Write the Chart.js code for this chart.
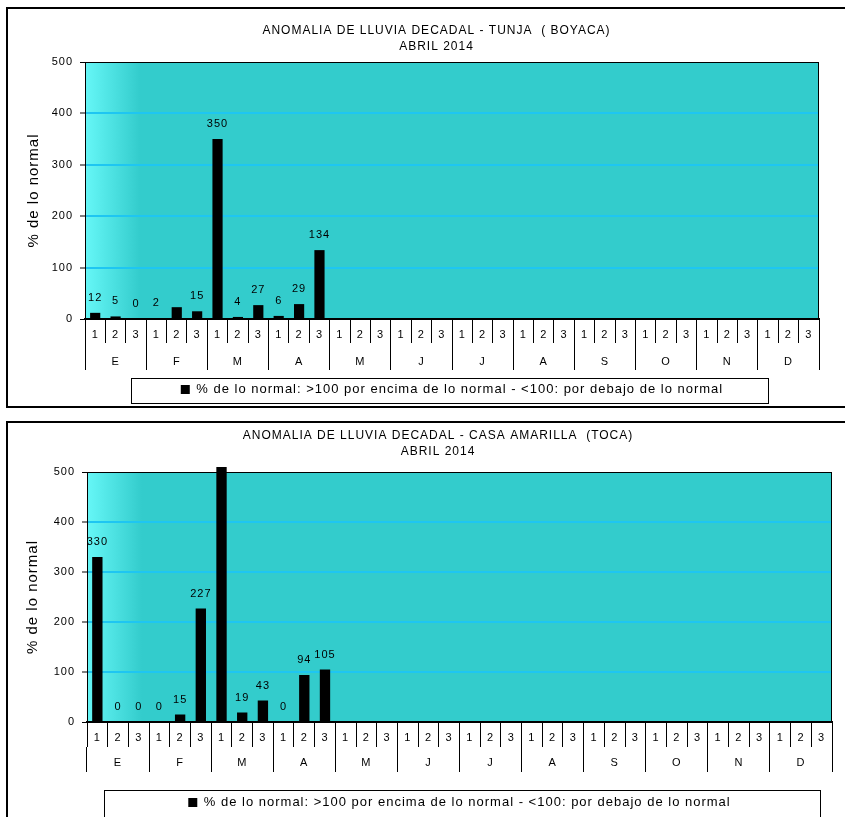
<!DOCTYPE html>
<html lang="es">
<head>
<meta charset="UTF-8">
<title>Anomalia de lluvia decadal - Abril 2014</title>
<script src="https://cdn.jsdelivr.net/npm/chart.js@4"></script>
<style>
  html, body { margin: 0; padding: 0; background: #fff; overflow: hidden; }
  .caja { position: absolute; border: 2px solid #000; background: #fff; }
  .caja > div { position: relative; width: 100%; height: 100%; }
</style>
</head>
<body>
<div class="caja" style="left:6px; top:7px; width:857px; height:397px;">
  <div><canvas id="graficoTunja"></canvas></div>
</div>
<div class="caja" style="left:6px; top:421px; width:860px; height:396px;">
  <div><canvas id="graficoToca"></canvas></div>
</div>

<script>
// datos
const meses = ['E', 'F', 'M', 'A', 'M', 'J', 'J', 'A', 'S', 'O', 'N', 'D'];
const decadas = ['1', '2', '3', '1', '2', '3', '1', '2', '3', '1', '2', '3',
                 '1', '2', '3', '1', '2', '3', '1', '2', '3', '1', '2', '3',
                 '1', '2', '3', '1', '2', '3', '1', '2', '3', '1', '2', '3'];
const leyenda = '% de lo normal: >100 por encima de lo normal - <100: por debajo de lo normal';

const tituloTunja = ['ANOMALIA DE LLUVIA DECADAL - TUNJA  ( BOYACA)', 'ABRIL 2014'];
const valoresTunja = [12, 5, 0, 2, 23, 15, 350, 4, 27, 6, 29, 134];
const etiquetasTunja = ['12', '5', '0', '2', null, '15', '350', '4', '27', '6', '29', '134'];

const tituloToca = ['ANOMALIA DE LLUVIA DECADAL - CASA AMARILLA  (TOCA)', 'ABRIL 2014'];
const valoresToca = [330, 0, 0, 0, 15, 227, 510, 19, 43, 0, 94, 105];
const etiquetasToca = ['330', '0', '0', '0', '15', '227', null, '19', '43', '0', '94', '105'];

Chart.defaults.font.family = '"Liberation Sans", Arial, sans-serif';
Chart.defaults.color = '#000';

// el texto de excel sale algo espaciado; se pone antes de medir y de pintar
const espaciado = {
    id: 'espaciado',
    beforeUpdate(chart) { chart.ctx.letterSpacing = '1px'; },
    beforeDraw(chart) { chart.ctx.letterSpacing = '1px'; }
};

// fondo turquesa con degradado a la izquierda y marco negro del area
const fondoArea = {
    id: 'fondoArea',
    beforeDraw(chart) {
        const { ctx, chartArea: a } = chart;
        const g = ctx.createLinearGradient(a.left, 0, a.left + 55, 0);
        g.addColorStop(0, '#66F7F7');
        g.addColorStop(1, '#33CCCC');
        ctx.save();
        ctx.fillStyle = g;
        ctx.fillRect(a.left, a.top, a.right - a.left, a.bottom - a.top);
        ctx.restore();
    },
    beforeDatasetsDraw(chart) {
        const { ctx, chartArea: a } = chart;
        ctx.save();
        ctx.strokeStyle = '#000';
        ctx.lineWidth = 1;
        ctx.strokeRect(Math.round(a.left) + 0.5, Math.round(a.top) + 0.5,
                       Math.round(a.right - a.left) - 1, Math.round(a.bottom - a.top));
        ctx.restore();
    }
};

// numeros encima de las barras
const etiquetasValor = {
    id: 'etiquetasValor',
    afterDatasetsDraw(chart) {
        const { ctx } = chart;
        const ds = chart.data.datasets[0];
        const meta = chart.getDatasetMeta(0);
        const y = chart.scales.y;
        ctx.save();
        ctx.font = '11px "Liberation Sans", Arial, sans-serif';
        ctx.fillStyle = '#000';
        ctx.textAlign = 'center';
        ctx.textBaseline = 'middle';
        ds.etiquetas.forEach((t, i) => {
            if (t === null) return;
            ctx.fillText(t, meta.data[i].x, y.getPixelForValue(ds.data[i]) - 15);
        });
        ctx.restore();
    }
};

// recuadro alrededor de la leyenda
const marcoLeyenda = {
    id: 'marcoLeyenda',
    afterDraw(chart, args, opts) {
        const lg = chart.legend;
        const { ctx } = chart;
        ctx.save();
        ctx.strokeStyle = '#000';
        ctx.lineWidth = 1;
        ctx.strokeRect(opts.x + 0.5, Math.round(lg.top + opts.dy) + 0.5, opts.w, opts.h);
        ctx.restore();
    }
};

function crearGrafico(id, titulo, valores, etiquetas, aj) {
    return new Chart(document.getElementById(id), {
        type: 'bar',
        data: {
            labels: decadas,
            datasets: [{
                label: leyenda,
                data: valores,
                etiquetas: etiquetas,
                backgroundColor: '#000',
                borderWidth: 0,
                barPercentage: 0.5,
                categoryPercentage: 1,
                clip: false
            }]
        },
        plugins: [espaciado, fondoArea, etiquetasValor, marcoLeyenda],
        options: {
            responsive: true,
            maintainAspectRatio: false,
            animation: false,
            layout: { padding: 0 },
            plugins: {
                title: {
                    display: true,
                    text: titulo,
                    color: '#000',
                    font: { size: 12, weight: 'normal', lineHeight: '16px' },
                    padding: { top: aj.tituloArriba, bottom: aj.tituloAbajo }
                },
                legend: {
                    position: 'bottom',
                    fullSize: false,
                    labels: { color: '#000', font: { size: 13 }, boxWidth: 9, boxHeight: 9, padding: aj.leyendaPad }
                },
                tooltip: { enabled: false },
                marcoLeyenda: aj.marco
            },
            scales: {
                x: {
                    type: 'category',
                    offset: true,
                    grid: { offset: true, drawOnChartArea: false, tickLength: aj.filaDecadas, color: '#000' },
                    border: { color: '#000', width: 2 },
                    ticks: { font: { size: 11 }, padding: aj.padDecadas, autoSkip: false, maxRotation: 0 },
                    afterFit: s => { s.height = aj.filaDecadas; }
                },
                x2: {
                    type: 'category',
                    position: 'bottom',
                    labels: meses,
                    offset: true,
                    grid: { offset: true, drawOnChartArea: false, tickLength: aj.filaMeses, color: '#000' },
                    border: { display: false },
                    ticks: { font: { size: 11 }, padding: aj.padMeses, autoSkip: false, maxRotation: 0 },
                    afterFit: s => { s.height = aj.filaMeses; }
                },
                y: {
                    min: 0,
                    max: 500,
                    ticks: { stepSize: 100, padding: 7, font: { size: 11 } },
                    grid: {
                        color: c => (c.tick.value === 0 || c.tick.value === 500) ? '#000' : '#1EC6F2',
                        lineWidth: c => (c.tick.value === 0 || c.tick.value === 500) ? 1 : 2,
                        tickColor: '#000',
                        tickWidth: 1,
                        tickLength: 5
                    },
                    border: { color: '#000' },
                    title: { display: true, text: '% de lo normal', font: { size: 15 }, padding: { top: aj.tituloY, bottom: 0 } },
                    afterFit: s => { s.width = aj.izquierda; }
                },
                y2: {
                    position: 'right',
                    display: true,
                    grid: { display: false },
                    ticks: { display: false },
                    border: { display: false },
                    afterFit: s => { s.width = aj.derecha; }
                }
            }
        }
    });
}

crearGrafico('graficoTunja', tituloTunja, valoresTunja, etiquetasTunja, {
    tituloArriba: 14, tituloAbajo: 7,
    izquierda: 77, derecha: 46, tituloY: 17,
    filaDecadas: 24, padDecadas: -15,
    filaMeses: 27, padMeses: -15,
    leyendaPad: 13,
    marco: { x: 123, w: 637, dy: 8, h: 25 }
});

crearGrafico('graficoToca', tituloToca, valoresToca, etiquetasToca, {
    tituloArriba: 5, tituloAbajo: 12,
    izquierda: 79, derecha: 36, tituloY: 16,
    filaDecadas: 25, padDecadas: -16,
    filaMeses: 25, padMeses: -16,
    leyendaPad: 24,
    marco: { x: 96, w: 716, dy: 18, h: 28 }
});
</script>
</body>
</html>
